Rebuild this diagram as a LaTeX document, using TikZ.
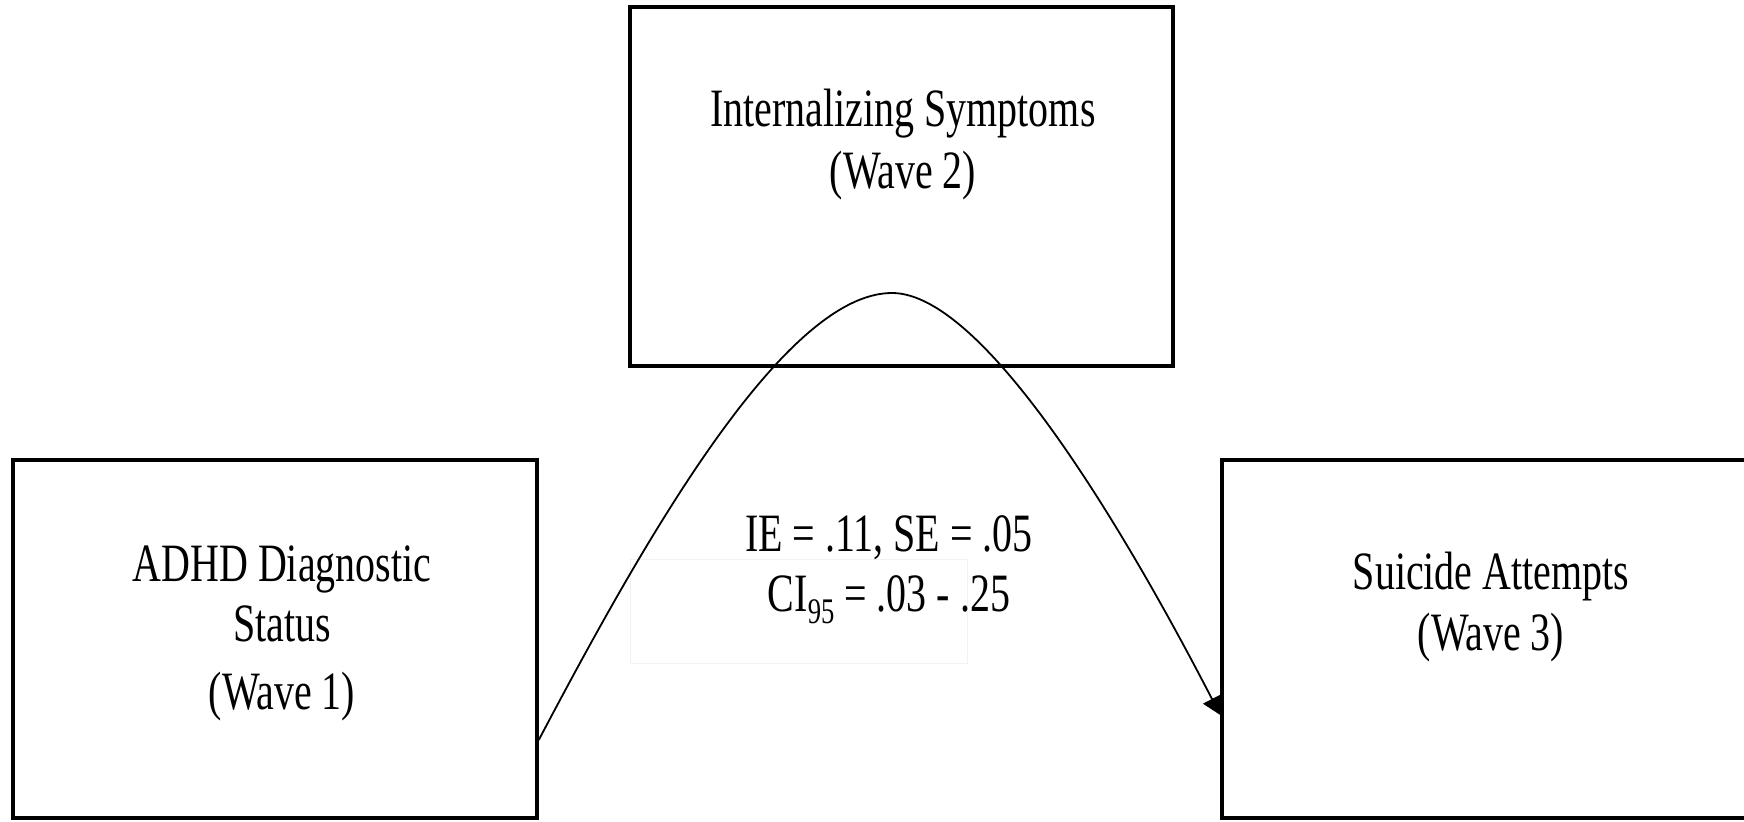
\documentclass[tikz,border=0pt]{standalone}
\usepackage{fontspec}
\setmainfont{Liberation Serif}[FakeStretch=0.74]
\usetikzlibrary{arrows.meta}
\begin{document}
\begin{tikzpicture}[x=0.5pt,y=-0.5pt,
  box/.style={draw=black, line width=1.75pt, rectangle, inner sep=0pt},
  txt/.style={anchor=base, inner sep=0pt, font=\fontsize{27}{32}\selectfont},
  conn/.style={line width=0.9pt, -{Triangle[length=9pt,width=10pt]}}]
\useasboundingbox (0,0) rectangle (1744,822);
% boxes
\node[box, minimum width=271.5pt, minimum height=179.5pt] (mid) at (901.5,186.5) {};
\node[box, minimum width=262pt, minimum height=179pt] (left) at (275,639) {};
\node[box, minimum width=262pt, minimum height=179pt] (right) at (1484,639) {};
% faint text frame
\node[draw=black!5, line width=0.5pt, minimum width=168.5pt, minimum height=51.5pt, inner sep=0pt] (ghost) at (798.5,611.5) {};
% texts
\node[txt] (m1) at (903,127) {Internalizing Symptoms};
\node[txt] (m2) at (903,189) {(Wave 2)};
\node[txt] (l1) at (282,582) {ADHD Diagnostic};
\node[txt] (l2) at (282,641) {Status};
\node[txt] (l3) at (282,709) {(Wave 1)};
\node[txt] (r1) at (1491,590) {Suicide Attempts};
\node[txt] (r2) at (1491,651) {(Wave 3)};
\node[txt] (ie) at (889,552) {IE = .11, SE = .05};
\node[txt] (ci) at (889,612) {CI\raisebox{-0.22em}{\fontsize{18}{18}\selectfont 95} = .03 - .25};
% connector
\coordinate (sy) at (0,740);
\coordinate (ey) at (0,715);
\coordinate (p) at (892,293);
\draw[conn] (left.east |- sy) .. controls (639,550) and (782,293) .. (p)
  .. controls (987,293) and (1132,544) .. (right.west |- ey);
\end{tikzpicture}
\end{document}
